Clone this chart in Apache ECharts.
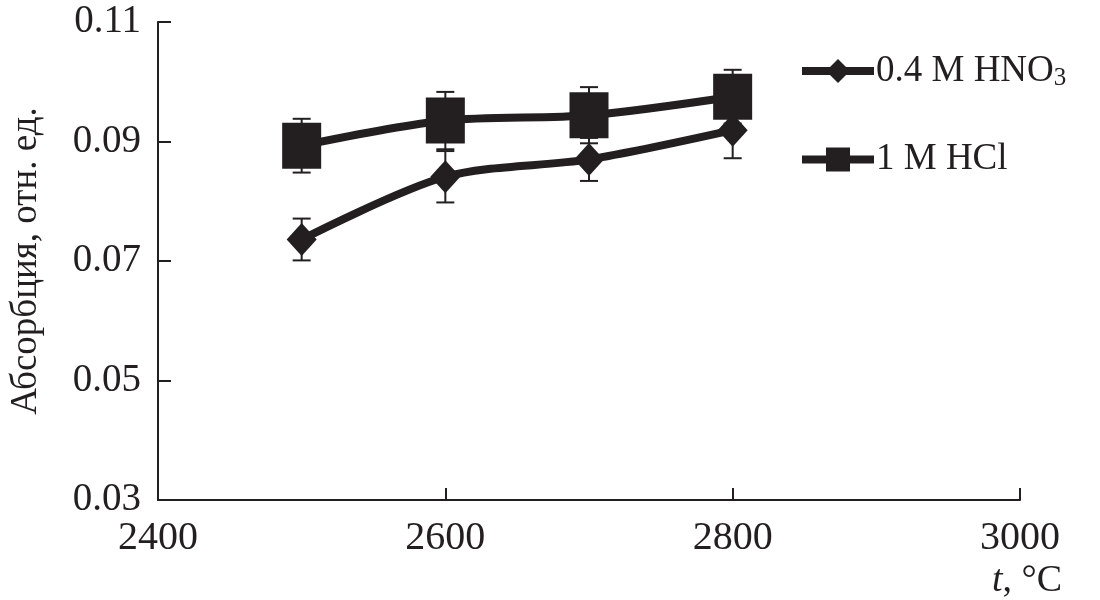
<!DOCTYPE html>
<html><head><meta charset="utf-8">
<script src="https://cdn.jsdelivr.net/npm/echarts@6/dist/echarts.min.js"></script>
<style>html,body{margin:0;padding:0;background:#fff}#c{width:1100px;height:600px}</style>
</head><body><div id="c"></div>
<script>
const temps = [2500, 2600, 2700, 2800];
const hno3 = [0.0736, 0.0841, 0.0870, 0.0919];
const hno3Err = [0.0035, 0.0043, 0.0036, 0.0047];
const hcl = [0.0893, 0.0935, 0.0944, 0.0975];
const hclErr = [0.0045, 0.0048, 0.0047, 0.0045];
const yTicks = [0.03, 0.05, 0.07, 0.09, 0.11];
const xTicks = [2400, 2600, 2800, 3000];
const seriesNames = ['0.4 M HNO3', '1 M HCl'];

const C = '#231f20';
const FONT = 'Liberation Serif';

function errSeries(vals, errs) {
  return {
    type: 'custom', z: 1, silent: true,
    data: temps.map((t, i) => [t, vals[i] - errs[i], vals[i] + errs[i]]),
    renderItem: function (params, api) {
      const lo = api.coord([api.value(0), api.value(1)]);
      const hi = api.coord([api.value(0), api.value(2)]);
      const w = 9;
      const st = { stroke: C, lineWidth: 2 };
      return { type: 'group', children: [
        { type: 'line', shape: { x1: lo[0], y1: lo[1], x2: hi[0], y2: hi[1] }, style: st },
        { type: 'line', shape: { x1: lo[0] - w, y1: lo[1], x2: lo[0] + w, y2: lo[1] }, style: st },
        { type: 'line', shape: { x1: hi[0] - w, y1: hi[1], x2: hi[0] + w, y2: hi[1] }, style: st }
      ]};
    }
  };
}

const chart = echarts.init(document.getElementById('c'));
chart.setOption({
  backgroundColor: '#fff',
  animation: false,
  textStyle: { fontFamily: FONT, color: C },
  grid: { left: 155, right: 80, top: 22, bottom: 98 },
  xAxis: {
    type: 'value', min: 2400, max: 3000, interval: 200,
    axisLine: { lineStyle: { color: C, width: 2 } },
    axisTick: { inside: true, length: 12, lineStyle: { color: C, width: 2 }, customValues: xTicks },
    axisLabel: { color: C, fontFamily: FONT, fontSize: 40, margin: 18, customValues: xTicks,
      formatter: v => String(v) },
    splitLine: { show: false },
    name: '{i|t}, °C', nameLocation: 'end', nameGap: 42,
    nameTextStyle: {
      align: 'right', verticalAlign: 'top', padding: [62, 0, 0, 0],
      fontFamily: FONT, fontSize: 38, color: C,
      rich: { i: { fontStyle: 'italic', fontFamily: FONT, fontSize: 38, color: C } }
    }
  },
  yAxis: {
    type: 'value', min: 0.03, max: 0.11,
    axisLine: { show: true, lineStyle: { color: C, width: 2 } },
    axisTick: { show: true, inside: true, length: 13, lineStyle: { color: C, width: 2 }, customValues: yTicks },
    axisLabel: { color: C, fontFamily: FONT, fontSize: 39, margin: 17, customValues: yTicks,
      formatter: v => v.toFixed(2) },
    splitLine: { show: false },
    name: 'Абсорбция, отн. ед.', nameLocation: 'middle', nameGap: 113,
    nameTextStyle: { fontFamily: FONT, fontSize: 37, color: C }
  },
  legend: {
    orient: 'vertical', left: 793, top: 41, itemGap: 50,
    itemWidth: 72, itemHeight: 30,
    data: seriesNames,
    lineStyle: { width: 8, color: C },
    formatter: function (n) {
      if (n === seriesNames[0]) return '{a|0.4 M HNO}{s|3}';
      return '{a|' + n + '}';
    },
    textStyle: {
      fontFamily: FONT, fontSize: 37, color: C, padding: [0, 0, 0, -3],
      rich: {
        a: { fontFamily: FONT, fontSize: 37, color: C, lineHeight: 40, verticalAlign: 'middle' },
        s: { fontFamily: FONT, fontSize: 25, color: C, lineHeight: 40, verticalAlign: 'bottom', padding: [20, 0, 0, 0] }
      }
    }
  },
  series: [
    errSeries(hno3, hno3Err),
    errSeries(hcl, hclErr),
    {
      name: seriesNames[0], type: 'line', smooth: 0.3, z: 3,
      data: temps.map((t, i) => [t, hno3[i]]),
      symbol: 'diamond', symbolSize: [30, 33],
      lineStyle: { color: C, width: 8 },
      itemStyle: { color: C }
    },
    {
      name: seriesNames[1], type: 'line', smooth: 0.3, z: 4,
      data: temps.map((t, i) => [t, hcl[i]]),
      symbol: 'rect', symbolSize: [39, 46],
      lineStyle: { color: C, width: 8 },
      itemStyle: { color: C }
    }
  ]
});
</script></body></html>
